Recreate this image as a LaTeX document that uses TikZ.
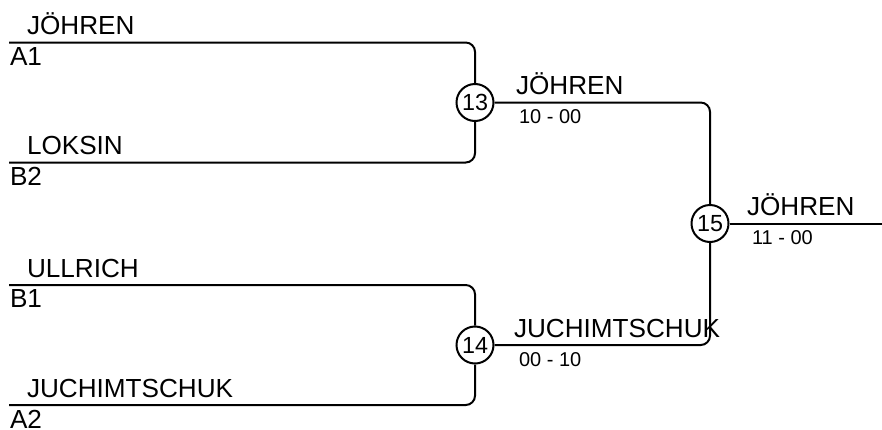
\documentclass[tikz,border=0pt]{standalone}
\usepackage{fontspec}
\setmainfont{Liberation Sans}
\usetikzlibrary{positioning}

\begin{document}
\begin{tikzpicture}[x=0.75pt, y=-0.75pt, line width=1.5pt,
    player/.style={anchor=base west, inner sep=0pt, font=\fontsize{19.6}{22}\selectfont},
    seed/.style={anchor=base west, inner sep=0pt, font=\fontsize{19.6}{22}\selectfont},
    score/.style={anchor=base west, inner sep=0pt, font=\fontsize{15}{16}\selectfont},
    match/.style={circle, draw, fill=white, line width=1.5pt, minimum size=27.75pt, inner sep=0pt, font=\fontsize{17.5}{18}\selectfont}]

    \useasboundingbox (0,0) rectangle (882,429);

    % matches
    \node[match] (m13) at (475,102.5) {13};
    \node[match] (m14) at (475,345) {14};
    \node[match] (m15) at (710,223.5) {15};

    % line starts
    \coordinate (a1) at (9,42.5);
    \coordinate (b2) at (9,162.5);
    \coordinate (b1) at (9,285);
    \coordinate (a2) at (9,405);
    \coordinate (win) at (882,223.5);

    % first round
    \draw[rounded corners=7pt] (a1) -| (m13);
    \draw[rounded corners=7pt] (b2) -| (m13);
    \draw[rounded corners=7pt] (b1) -| (m14);
    \draw[rounded corners=7pt] (a2) -| (m14);

    % final
    \draw[rounded corners=7pt] (m13) -| (m15);
    \draw[rounded corners=7pt] (m14) -| (m15);
    \draw (m15) -- (win);

    % names and seeds
    \node[player] (p1) at (26,34.5) {JÖHREN};
    \node[seed] (s1) at (9,65) {A1};
    \node[player] (p2) at (26,154) {LOKSIN};
    \node[seed] (s2) at (9,185) {B2};
    \node[player] (p3) at (26,277) {ULLRICH};
    \node[seed] (s3) at (9,307.5) {B1};
    \node[player] (p4) at (26,397) {JUCHIMTSCHUK};
    \node[seed] (s4) at (9,428) {A2};

    % winners and scores
    \node[player] (w13) at (515,94) {JÖHREN};
    \node[score] (r13) at (518,123) {10 - 00};
    \node[player] (w14) at (513,337) {JUCHIMTSCHUK};
    \node[score] (r14) at (518,366) {00 - 10};
    \node[player] (w15) at (746,215) {JÖHREN};
    \node[score] (r15) at (751,244) {11 - 00};

\end{tikzpicture}
\end{document}
